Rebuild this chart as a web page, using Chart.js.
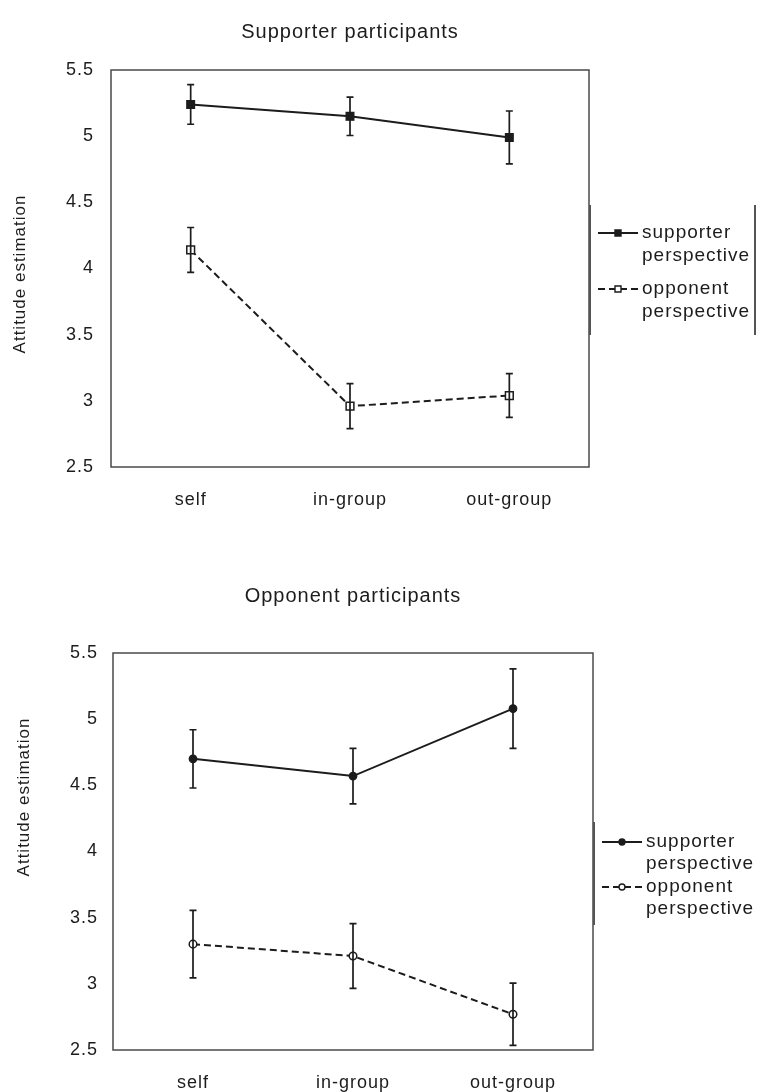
<!DOCTYPE html>
<html>
<head>
<meta charset="utf-8">
<script src="https://cdn.jsdelivr.net/npm/chart.js@4/dist/chart.umd.min.js"></script>
<style>
  body { margin: 0; background: #fff; }
  .panel { position: absolute; left: 0; }
</style>
</head>
<body>
<div class="panel" style="top:0"><canvas id="topChart" width="757" height="530"></canvas></div>
<div class="panel" style="top:530px"><canvas id="bottomChart" width="757" height="562"></canvas></div>
<script>
// categories and ticks
const categories = ['self', 'in-group', 'out-group'];
const yTicks = [2.5, 3, 3.5, 4, 4.5, 5, 5.5];
const supporterName = ['supporter', 'perspective'];
const opponentName = ['opponent', 'perspective'];

// Supporter participants (means and error bar half-lengths)
const supSupporter = [5.24, 5.15, 4.99];
const supSupporterErr = [0.15, 0.145, 0.2];
const supOpponent = [4.14, 2.96, 3.04];
const supOpponentErr = [0.17, 0.17, 0.165];

// Opponent participants
const oppSupporter = [4.70, 4.57, 5.08];
const oppSupporterErr = [0.22, 0.21, 0.3];
const oppOpponent = [3.30, 3.21, 2.77];
const oppOpponentErr = [0.255, 0.245, 0.235];

const FONT = '"Liberation Sans", Arial, sans-serif';
const INK = '#1c1c1c';

// wider letters like the scanned figure
const spacing = {
  id: 'spacing',
  beforeLayout(chart) { chart.ctx.letterSpacing = '1px'; },
  beforeDraw(chart) { chart.ctx.letterSpacing = '1px'; }
};

// box round the plot area
const frame = {
  id: 'frame',
  beforeDatasetsDraw(chart) {
    const { ctx, chartArea: a } = chart;
    ctx.save();
    ctx.strokeStyle = '#4a4a4a';
    ctx.lineWidth = 1.5;
    ctx.strokeRect(a.left, a.top, a.right - a.left, a.bottom - a.top);
    ctx.restore();
  }
};

// vertical error bars with caps, from dataset.err
const errorBars = {
  id: 'errorBars',
  afterDatasetsDraw(chart) {
    const ctx = chart.ctx, xs = chart.scales.x, ys = chart.scales.y;
    ctx.save();
    ctx.strokeStyle = INK;
    ctx.lineWidth = 1.7;
    ctx.setLineDash([]);
    chart.data.datasets.forEach(ds => {
      ds.data.forEach((v, i) => {
        const px = xs.getPixelForValue(i);
        const hi = ys.getPixelForValue(v + ds.err[i]);
        const lo = ys.getPixelForValue(v - ds.err[i]);
        ctx.beginPath();
        ctx.moveTo(px, hi); ctx.lineTo(px, lo);
        ctx.moveTo(px - 3.5, hi); ctx.lineTo(px + 3.5, hi);
        ctx.moveTo(px - 3.5, lo); ctx.lineTo(px + 3.5, lo);
        ctx.stroke();
      });
    });
    ctx.restore();
  }
};

// rotated y axis title at a chosen place
const yTitle = {
  id: 'yTitle',
  afterDraw(chart, args, opts) {
    const ctx = chart.ctx;
    ctx.save();
    ctx.letterSpacing = '1px';
    ctx.translate(opts.x, opts.y);
    ctx.rotate(-Math.PI / 2);
    ctx.font = '17px ' + FONT;
    ctx.fillStyle = INK;
    ctx.textAlign = 'center';
    ctx.textBaseline = 'middle';
    ctx.fillText(opts.text, 0, 0);
    ctx.restore();
  }
};

// legend to the right of the plot, two-line labels
const sideLegend = {
  id: 'sideLegend',
  afterDraw(chart, args, opts) {
    const { ctx, chartArea: a } = chart;
    ctx.save();
    ctx.strokeStyle = '#555';
    ctx.lineWidth = 2;
    ctx.beginPath();
    ctx.moveTo(a.right + 1, opts.boxTop); ctx.lineTo(a.right + 1, opts.boxBottom);
    if (opts.boxRight) {
      ctx.moveTo(opts.boxRight, opts.boxTop); ctx.lineTo(opts.boxRight, opts.boxBottom);
    }
    ctx.stroke();

    ctx.letterSpacing = '1px';
    ctx.font = '19px ' + FONT;
    ctx.textBaseline = 'middle';
    chart.data.datasets.forEach((ds, k) => {
      const y0 = opts.top + k * opts.itemStep;
      const x0 = a.right + 9, x1 = a.right + 49, xm = (x0 + x1) / 2;
      ctx.strokeStyle = INK;
      ctx.lineWidth = 1.8;
      ctx.setLineDash(ds.borderDash || []);
      ctx.beginPath(); ctx.moveTo(x0, y0); ctx.lineTo(x1, y0); ctx.stroke();
      ctx.setLineDash([]);
      ctx.lineWidth = 1.4;
      ctx.fillStyle = ds.pointBackgroundColor;
      ctx.beginPath();
      if (ds.pointStyle === 'rect') ctx.rect(xm - 3, y0 - 3, 6, 6);
      else ctx.arc(xm, y0, 3, 0, Math.PI * 2);
      ctx.fill(); ctx.stroke();
      ctx.fillStyle = INK;
      ds.legendText.forEach((t, j) => ctx.fillText(t, a.right + 53, y0 + j * opts.lineStep));
    });
    ctx.restore();
  }
};

function makeChart(id, cfg) {
  const marker = cfg.marker;
  const radius = marker === 'rect' ? 5.5 : 3.8;
  return new Chart(document.getElementById(id), {
    type: 'line',
    data: {
      labels: categories,
      datasets: [
        {
          label: supporterName.join(' '),
          legendText: supporterName,
          data: cfg.supporter,
          err: cfg.supporterErr,
          borderColor: INK,
          borderWidth: 2,
          pointStyle: marker,
          pointRadius: radius,
          pointBackgroundColor: INK,
          pointBorderColor: INK,
          pointBorderWidth: 1.2,
          tension: 0
        },
        {
          label: opponentName.join(' '),
          legendText: opponentName,
          data: cfg.opponent,
          err: cfg.opponentErr,
          borderColor: INK,
          borderWidth: 2,
          borderDash: [7, 4],
          pointStyle: marker,
          pointRadius: radius,
          pointBackgroundColor: '#fff',
          pointBorderColor: INK,
          pointBorderWidth: 1.5,
          tension: 0
        }
      ]
    },
    options: {
      responsive: false,
      animation: false,
      devicePixelRatio: 1,
      layout: { padding: { left: 0, right: cfg.rightPad, top: 0, bottom: 0 } },
      plugins: {
        legend: { display: false },
        tooltip: { enabled: false },
        title: {
          display: true,
          text: cfg.title,
          fullSize: false,
          color: INK,
          font: { size: 20, family: FONT, weight: 'normal' },
          padding: cfg.titlePad
        },
        yTitle: { text: 'Attitude estimation', x: cfg.yTitleX, y: cfg.yTitleY },
        sideLegend: cfg.legend
      },
      scales: {
        x: {
          offset: true,
          afterFit: s => { s.height = cfg.xHeight; },
          grid: { display: false, drawTicks: false },
          border: { display: false },
          ticks: { padding: 22, color: INK, font: { size: 18, family: FONT } }
        },
        y: {
          min: 2.5,
          max: 5.5,
          afterBuildTicks: s => { s.ticks = yTicks.map(v => ({ value: v })); },
          afterFit: s => { s.width = cfg.yWidth; },
          grid: { display: false, drawTicks: false },
          border: { display: false },
          ticks: {
            padding: cfg.yPad,
            color: INK,
            font: { size: 18, family: FONT },
            callback: v => String(v)
          }
        }
      }
    },
    plugins: [spacing, frame, errorBars, yTitle, sideLegend]
  });
}

makeChart('topChart', {
  title: 'Supporter participants',
  marker: 'rect',
  supporter: supSupporter, supporterErr: supSupporterErr,
  opponent: supOpponent, opponentErr: supOpponentErr,
  rightPad: 168, yWidth: 111, yPad: 17, xHeight: 63,
  titlePad: { top: 20, bottom: 26 },
  yTitleX: 20, yTitleY: 274,
  legend: { top: 233, itemStep: 56, lineStep: 23, boxTop: 205, boxBottom: 335, boxRight: 755 }
});

makeChart('bottomChart', {
  title: 'Opponent participants',
  marker: 'circle',
  supporter: oppSupporter, supporterErr: oppSupporterErr,
  opponent: oppOpponent, opponentErr: oppOpponentErr,
  rightPad: 164, yWidth: 113, yPad: 15, xHeight: 42,
  titlePad: { top: 54, bottom: 45 },
  yTitleX: 24, yTitleY: 267,
  legend: { top: 312, itemStep: 45, lineStep: 22, boxTop: 292, boxBottom: 395, boxRight: 0 }
});
</script>
</body>
</html>
